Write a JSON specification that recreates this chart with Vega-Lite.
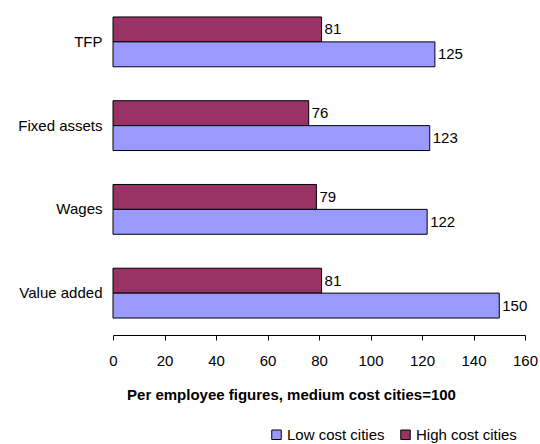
{
  "$schema": "https://vega.github.io/schema/vega-lite/v6.json",
  "width": 412,
  "height": 335,
  "autosize": {"type": "none"},
  "padding": {"left": 113, "top": 0, "right": 15, "bottom": 109},
  "background": "white",
  "config": {
    "view": {"stroke": null},
    "font": "Liberation Sans",
    "axis": {"labelFont": "Liberation Sans", "titleFont": "Liberation Sans", "labelColor": "black", "titleColor": "black"},
    "legend": {"labelFont": "Liberation Sans", "labelColor": "black"}
  },
  "data": {
    "values": [
      {"measure": "TFP", "series": "High cost cities", "value": 81},
      {"measure": "TFP", "series": "Low cost cities", "value": 125},
      {"measure": "Fixed assets", "series": "High cost cities", "value": 76},
      {"measure": "Fixed assets", "series": "Low cost cities", "value": 123},
      {"measure": "Wages", "series": "High cost cities", "value": 79},
      {"measure": "Wages", "series": "Low cost cities", "value": 122},
      {"measure": "Value added", "series": "High cost cities", "value": 81},
      {"measure": "Value added", "series": "Low cost cities", "value": 150}
    ]
  },
  "encoding": {
    "y": {
      "field": "measure",
      "type": "nominal",
      "sort": ["TFP", "Fixed assets", "Wages", "Value added"],
      "scale": {"paddingInner": 0.405, "paddingOuter": 0.2025},
      "axis": {"title": null, "domain": false, "ticks": false, "labelPadding": 11, "labelFontSize": 15}
    },
    "yOffset": {
      "field": "series",
      "type": "nominal",
      "sort": ["High cost cities", "Low cost cities"],
      "scale": {"paddingInner": 0, "paddingOuter": 0}
    },
    "x": {
      "field": "value",
      "type": "quantitative",
      "scale": {"domain": [0, 160], "nice": false},
      "axis": {
        "values": [0, 20, 40, 60, 80, 100, 120, 140, 160],
        "grid": false,
        "domainColor": "black",
        "tickColor": "black",
        "tickSize": 5,
        "labelPadding": 13,
        "labelFontSize": 15,
        "labelFlush": false,
        "title": "Per employee figures, medium cost cities=100",
        "titleFontSize": 15,
        "titleFontWeight": "bold",
        "titlePadding": 19,
        "titleX": 178,
        "titleAlign": "center",
        "titleAnchor": null
      }
    }
  },
  "layer": [
    {
      "mark": {"type": "bar", "stroke": "black", "strokeWidth": 1},
      "encoding": {
        "color": {
          "field": "series",
          "type": "nominal",
          "sort": ["Low cost cities", "High cost cities"],
          "scale": {"domain": ["Low cost cities", "High cost cities"], "range": ["#9999FF", "#993366"]},
          "legend": {
            "title": null,
            "orient": "none",
            "direction": "horizontal",
            "legendX": 156,
            "legendY": 427,
            "symbolType": "square",
            "symbolSize": 90,
            "symbolStrokeColor": "black",
            "symbolStrokeWidth": 1,
            "symbolOpacity": 1,
            "labelFontSize": 15,
            "labelOffset": 3,
            "columnPadding": 13
          }
        }
      }
    },
    {
      "mark": {"type": "text", "align": "left", "baseline": "middle", "dx": 3, "fontSize": 15, "color": "black"},
      "encoding": {"text": {"field": "value", "type": "quantitative"}}
    }
  ]
}
